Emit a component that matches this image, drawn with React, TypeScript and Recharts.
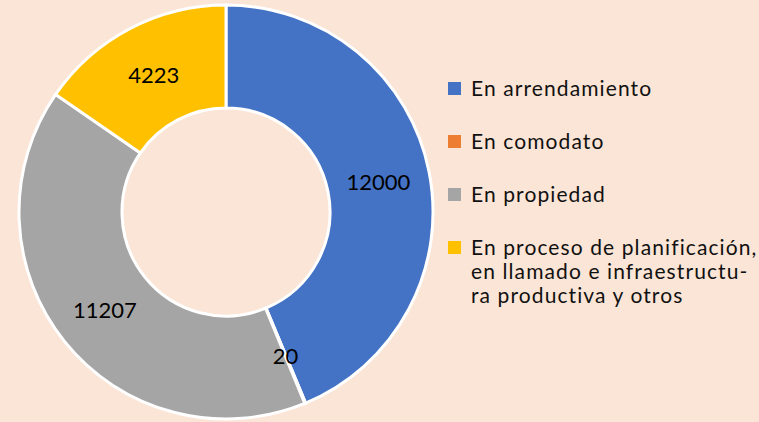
import { PieChart, Pie, Cell, Legend } from "recharts";

const categories = [
  "En arrendamiento",
  "En comodato",
  "En propiedad",
  "En proceso de planificación, en llamado e infraestructu-ra productiva y otros",
];
const legendLines = [
  ["En arrendamiento"],
  ["En comodato"],
  ["En propiedad"],
  ["En proceso de planificación,", "en llamado e infraestructu-", "ra productiva y otros"],
];
const values = [12000, 20, 11207, 4223];
const colors = ["#4472C4", "#ED7D31", "#A5A5A5", "#FFC000"];

const data = categories.map((name, i) => ({ name, value: values[i] }));

const RADIAN = Math.PI / 180;

const renderLabel = (props: any) => {
  const { cx, cy, midAngle, innerRadius, outerRadius, value } = props;
  const r = (innerRadius + outerRadius) / 2;
  const x = cx + r * Math.cos(-midAngle * RADIAN);
  const y = cy + r * Math.sin(-midAngle * RADIAN);
  return (
    <text
      x={x}
      y={y}
      textAnchor="middle"
      dominantBaseline="central"
      fill="#000"
      fontSize={22}
      fontFamily="Lato"
    >
      {value}
    </text>
  );
};

const LegendBox = () => (
  <div style={{ fontFamily: "Lato", fontSize: 21, letterSpacing: 1.1, color: "#111" }}>
    {legendLines.map((lines, i) => (
      <div key={i} style={{ display: "flex", alignItems: "flex-start", marginBottom: 29 }}>
        <span
          style={{
            width: 13,
            height: 13,
            background: colors[i],
            marginTop: 6,
            marginRight: 10,
            flexShrink: 0,
          }}
        />
        <div style={{ lineHeight: "24px" }}>
          {lines.map((l, j) => (
            <div key={j} style={{ whiteSpace: "nowrap" }}>{l}</div>
          ))}
        </div>
      </div>
    ))}
  </div>
);

export default function App() {
  return (
    <div
      style={{
        position: "absolute",
        left: 0,
        top: 0,
        width: 759,
        height: 422,
        background: "#FBE5D6",
      }}
    >
      <PieChart width={759} height={422}>
        <Pie
          data={data}
          dataKey="value"
          cx={221}
          cy={207}
          innerRadius={104}
          outerRadius={207}
          startAngle={90}
          endAngle={-270}
          stroke="#fff"
          strokeWidth={3}
          label={renderLabel}
          labelLine={false}
          isAnimationActive={false}
        >
          {data.map((d, i) => (
            <Cell key={d.name} fill={colors[i]} />
          ))}
        </Pie>
        <Legend
          content={<LegendBox />}
          wrapperStyle={{ left: 448, top: 76, width: 311 }}
        />
      </PieChart>
    </div>
  );
}
